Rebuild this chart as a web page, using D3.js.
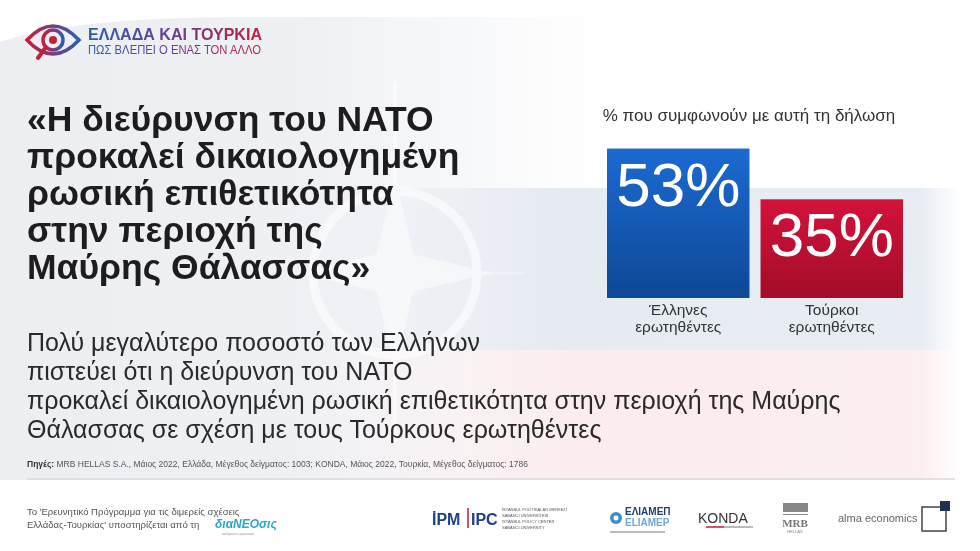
<!DOCTYPE html>
<html>
<head>
<meta charset="utf-8">
<script src="https://cdn.jsdelivr.net/npm/d3@7"></script>
<style>
  body { margin: 0; background: #fff; }
  svg { display: block; font-family: "Liberation Sans", Arial, sans-serif; }
</style>
</head>
<body>
<div id="chart"></div>
<script>
// data
var groups = ["Έλληνες", "Τούρκοι"];
var groupLines = [["Έλληνες", "ερωτηθέντες"], ["Τούρκοι", "ερωτηθέντες"]];
var values = [53, 35];
var barColors = [["#1b6ad2", "#0f4896"], ["#d3123a", "#a30d28"]];

var titleLines = ["«Η διεύρυνση του NATO", "προκαλεί δικαιολογημένη", "ρωσική επιθετικότητα",
  "στην περιοχή της", "Μαύρης Θάλασσας»"];
var subLines = ["Πολύ μεγαλύτερο ποσοστό των Ελλήνων", "πιστεύει ότι η διεύρυνση του NATO",
  "προκαλεί δικαιολογημένη ρωσική επιθετικότητα στην περιοχή της Μαύρης",
  "Θάλασσας σε σχέση με τους Τούρκους ερωτηθέντες"];

var width = 980, height = 551;

var svg = d3.select("#chart").append("svg")
  .attr("width", width)
  .attr("height", height);

var defs = svg.append("defs");

// background gradients
function hGrad(id, stops) {
  var g = defs.append("linearGradient").attr("id", id)
    .attr("x1", 0).attr("x2", 1).attr("y1", 0).attr("y2", 0);
  stops.forEach(function(s) {
    g.append("stop").attr("offset", s[0]).attr("stop-color", s[1]).attr("stop-opacity", s[2]);
  });
}
hGrad("baseGray", [[0, "#eceef2", 1], [0.3, "#eef0f4", 1], [0.62, "#fff", 1], [1, "#fff", 1]]);
hGrad("flagBlue", [[0, "#e6eaf1", 0], [0.3, "#e6eaf1", 0], [0.56, "#e6eaf1", 1], [0.94, "#e8ecf3", 1], [0.98, "#fff", 1]]);
hGrad("flagRed", [[0, "#fbeced", 0], [0.32, "#fbeced", 0], [0.6, "#fbeced", 1], [0.94, "#fcefef", 1], [0.98, "#fff", 1]]);

svg.append("rect").attr("width", width).attr("height", height).attr("fill", "#fff");
svg.append("path")
  .attr("d", "M0,42 C60,22 150,17 260,17 L980,17 L980,480 L0,480 Z")
  .attr("fill", "url(#baseGray)");
svg.append("rect").attr("x", 0).attr("y", 188).attr("width", width).attr("height", 162).attr("fill", "url(#flagBlue)");
svg.append("rect").attr("x", 0).attr("y", 350).attr("width", width).attr("height", 130).attr("fill", "url(#flagRed)");

// NATO watermark
var nato = svg.append("g").attr("transform", "translate(395,273)").attr("opacity", 0.55);
nato.append("circle").attr("r", 82).attr("fill", "none").attr("stroke", "#fff").attr("stroke-width", 9);
nato.append("line").attr("x1", 0).attr("x2", 0).attr("y1", -192).attr("y2", 170).attr("stroke", "#fff").attr("stroke-width", 4);
nato.append("line").attr("x1", -130).attr("x2", 130).attr("y1", 0).attr("y2", 0).attr("stroke", "#fff").attr("stroke-width", 3).attr("opacity", 0.4);
var star = [];
for (var i = 0; i < 8; i++) {
  var a = i * Math.PI / 4 - Math.PI / 2;
  var r = i % 2 === 0 ? 98 : 26;
  star.push([r * Math.cos(a), r * Math.sin(a)]);
}
nato.append("path").attr("d", d3.line()(star) + "Z").attr("fill", "#fff").attr("opacity", 0.9);

// header logo
var lg = defs.append("linearGradient").attr("id", "logoGrad")
  .attr("gradientUnits", "userSpaceOnUse").attr("x1", 88).attr("x2", 262).attr("y1", 0).attr("y2", 0);
lg.append("stop").attr("offset", 0).attr("stop-color", "#2d5db0");
lg.append("stop").attr("offset", 0.5).attr("stop-color", "#6a3f8c");
lg.append("stop").attr("offset", 1).attr("stop-color", "#c3203f");
var eg = defs.append("linearGradient").attr("id", "eyeGrad").attr("x1", 0).attr("x2", 1);
eg.append("stop").attr("offset", 0).attr("stop-color", "#c3203f");
eg.append("stop").attr("offset", 1).attr("stop-color", "#2d5db0");

var eye = svg.append("g").attr("transform", "translate(53,40)");
eye.append("path").attr("d", "M-26,0 Q0,-28 26,0 Q0,28 -26,0 Z")
  .attr("fill", "none").attr("stroke", "url(#eyeGrad)").attr("stroke-width", 3.5);
eye.append("circle").attr("r", 10).attr("fill", "none").attr("stroke", "url(#eyeGrad)").attr("stroke-width", 3.5);
eye.append("circle").attr("r", 4).attr("fill", "#c3203f");
eye.append("line").attr("x1", -7).attr("y1", 7).attr("x2", -15).attr("y2", 18)
  .attr("stroke", "#c3203f").attr("stroke-width", 4).attr("stroke-linecap", "round");

svg.append("text").attr("x", 88).attr("y", 40)
  .attr("font-size", 17).attr("font-weight", "bold").attr("fill", "url(#logoGrad)")
  .attr("textLength", 174).attr("lengthAdjust", "spacingAndGlyphs")
  .text("ΕΛΛΑΔΑ ΚΑΙ ΤΟΥΡΚΙΑ");
svg.append("text").attr("x", 88).attr("y", 54)
  .attr("font-size", 12).attr("fill", "url(#logoGrad)")
  .attr("textLength", 173).attr("lengthAdjust", "spacingAndGlyphs")
  .text("ΠΩΣ ΒΛΕΠΕΙ Ο ΕΝΑΣ ΤΟΝ ΑΛΛΟ");

// title
svg.append("g").selectAll("text")
  .data(titleLines)
  .enter().append("text")
    .attr("x", 27)
    .attr("y", function(d, i) { return 131 + i * 37; })
    .attr("font-size", 35.5)
    .attr("font-weight", "bold")
    .attr("fill", "#1d1d1f")
    .text(function(d) { return d; });

// subtitle
svg.append("g").selectAll("text")
  .data(subLines)
  .enter().append("text")
    .attr("x", 27)
    .attr("y", function(d, i) { return 351 + i * 29; })
    .attr("font-size", 25)
    .attr("fill", "#2a2a2a")
    .text(function(d) { return d; });

// sources
var src = svg.append("text").attr("x", 27).attr("y", 467).attr("font-size", 8.5).attr("fill", "#555");
src.append("tspan").attr("font-weight", "bold").attr("fill", "#333").text("Πηγές: ");
src.append("tspan").text("MRB HELLAS S.A., Μάιος 2022, Ελλάδα, Μέγεθος δείγματος: 1003; KONDA, Μάιος 2022, Τουρκία, Μέγεθος δείγματος: 1786");

svg.append("line").attr("x1", 27).attr("x2", 955).attr("y1", 479).attr("y2", 479)
  .attr("stroke", "#d9dadf").attr("stroke-width", 1.5);

// bar chart
var xScale = d3.scaleBand()
  .domain(groups)
  .range([607, 903])
  .paddingInner(0.072);

var yScale = d3.scaleLinear()
  .domain([0, 100])
  .range([298, 16]);

barColors.forEach(function(c, i) {
  var g = defs.append("linearGradient").attr("id", "bar" + i)
    .attr("x1", 0).attr("x2", 0).attr("y1", 0).attr("y2", 1);
  g.append("stop").attr("offset", 0).attr("stop-color", c[0]);
  g.append("stop").attr("offset", 1).attr("stop-color", c[1]);
});

svg.append("text")
  .attr("x", 749).attr("y", 121)
  .attr("text-anchor", "middle")
  .attr("font-size", 17)
  .attr("fill", "#333")
  .text("% που συμφωνούν με αυτή τη δήλωση");

var bars = svg.append("g").selectAll("g")
  .data(groups)
  .enter().append("g");

bars.append("rect")
  .attr("x", function(d) { return xScale(d); })
  .attr("y", function(d, i) { return yScale(values[i]); })
  .attr("width", xScale.bandwidth())
  .attr("height", function(d, i) { return yScale(0) - yScale(values[i]); })
  .attr("fill", function(d, i) { return "url(#bar" + i + ")"; });

bars.append("text")
  .attr("x", function(d) { return xScale(d) + xScale.bandwidth() / 2; })
  .attr("y", function(d, i) { return yScale(values[i]) + 57; })
  .attr("text-anchor", "middle")
  .attr("font-size", 62)
  .attr("fill", "#fff")
  .text(function(d, i) { return values[i] + "%"; });

bars.each(function(d, i) {
  d3.select(this).selectAll(".lbl")
    .data(groupLines[i])
    .enter().append("text")
      .attr("class", "lbl")
      .attr("x", xScale(d) + xScale.bandwidth() / 2)
      .attr("y", function(t, j) { return 315 + j * 17; })
      .attr("text-anchor", "middle")
      .attr("font-size", 15.5)
      .attr("fill", "#333")
      .text(function(t) { return t; });
});

// footer
var foot = svg.append("g").attr("font-size", 9.5).attr("fill", "#555");
foot.append("text").attr("x", 27).attr("y", 515).text("Το 'Ερευνητικό Πρόγραμμα για τις διμερείς σχέσεις");
foot.append("text").attr("x", 27).attr("y", 528).text("Ελλάδας-Τουρκίας' υποστηρίζεται από τη");
svg.append("text").attr("x", 215).attr("y", 528).attr("font-size", 12).attr("font-style", "italic")
  .attr("font-weight", "bold").attr("fill", "#2aa6c8").text("διαNEOσις");
svg.append("text").attr("x", 222).attr("y", 535).attr("font-size", 3).attr("fill", "#999").text("ανεξάρτητος οργανισμός");

// partner logos
svg.append("text").attr("x", 432).attr("y", 525).attr("font-size", 16).attr("font-weight", "bold")
  .attr("fill", "#1f3f8a").text("İPM");
svg.append("line").attr("x1", 468).attr("x2", 468).attr("y1", 508).attr("y2", 528).attr("stroke", "#d0103a").attr("stroke-width", 1.5);
svg.append("text").attr("x", 471).attr("y", 525).attr("font-size", 16).attr("font-weight", "bold")
  .attr("fill", "#1f3f8a").text("IPC");
var ipc = svg.append("g").attr("font-size", 4).attr("fill", "#555");
ipc.append("text").attr("x", 502).attr("y", 511).text("İSTANBUL POLİTİKALAR MERKEZİ");
ipc.append("text").attr("x", 502).attr("y", 517).text("SABANCI ÜNİVERSİTESİ");
ipc.append("text").attr("x", 502).attr("y", 523).text("ISTANBUL POLICY CENTER");
ipc.append("text").attr("x", 502).attr("y", 529).text("SABANCI UNIVERSITY");

svg.append("circle").attr("cx", 616).attr("cy", 518).attr("r", 6).attr("fill", "#3b8fc8");
svg.append("circle").attr("cx", 616).attr("cy", 518).attr("r", 2.5).attr("fill", "#fff");
svg.append("text").attr("x", 625).attr("y", 515).attr("font-size", 10).attr("font-weight", "bold")
  .attr("fill", "#1f3f6a").text("ΕΛΙΑΜΕΠ");
svg.append("text").attr("x", 625).attr("y", 526).attr("font-size", 10).attr("font-weight", "bold")
  .attr("fill", "#6fa8d6").text("ELIAMEP");
svg.append("line").attr("x1", 610).attr("x2", 665).attr("y1", 532).attr("y2", 532).attr("stroke", "#bbb").attr("stroke-width", 2);

svg.append("text").attr("x", 698).attr("y", 523).attr("font-size", 14).attr("fill", "#333").text("KONDA");
svg.append("line").attr("x1", 706).attr("x2", 724).attr("y1", 527).attr("y2", 527).attr("stroke", "#d0103a").attr("stroke-width", 1.5);
svg.append("line").attr("x1", 724).attr("x2", 753).attr("y1", 527).attr("y2", 527).attr("stroke", "#777").attr("stroke-width", 1);

svg.append("rect").attr("x", 783).attr("y", 503).attr("width", 25).attr("height", 9).attr("fill", "#888");
svg.append("rect").attr("x", 783).attr("y", 514).attr("width", 25).attr("height", 1).attr("fill", "#888");
svg.append("text").attr("x", 795).attr("y", 527).attr("text-anchor", "middle").attr("font-size", 11)
  .attr("font-family", "Liberation Serif").attr("font-weight", "bold").attr("fill", "#777").text("MRB");
svg.append("text").attr("x", 795).attr("y", 533).attr("text-anchor", "middle").attr("font-size", 4)
  .attr("fill", "#888").text("HELLAS");

svg.append("text").attr("x", 838).attr("y", 522).attr("font-size", 11).attr("fill", "#666").text("alma economics");
svg.append("rect").attr("x", 922).attr("y", 507).attr("width", 24).attr("height", 24)
  .attr("fill", "none").attr("stroke", "#444").attr("stroke-width", 1.5);
svg.append("rect").attr("x", 940).attr("y", 501).attr("width", 10).attr("height", 10).attr("fill", "#1f3050");
</script>
</body>
</html>
